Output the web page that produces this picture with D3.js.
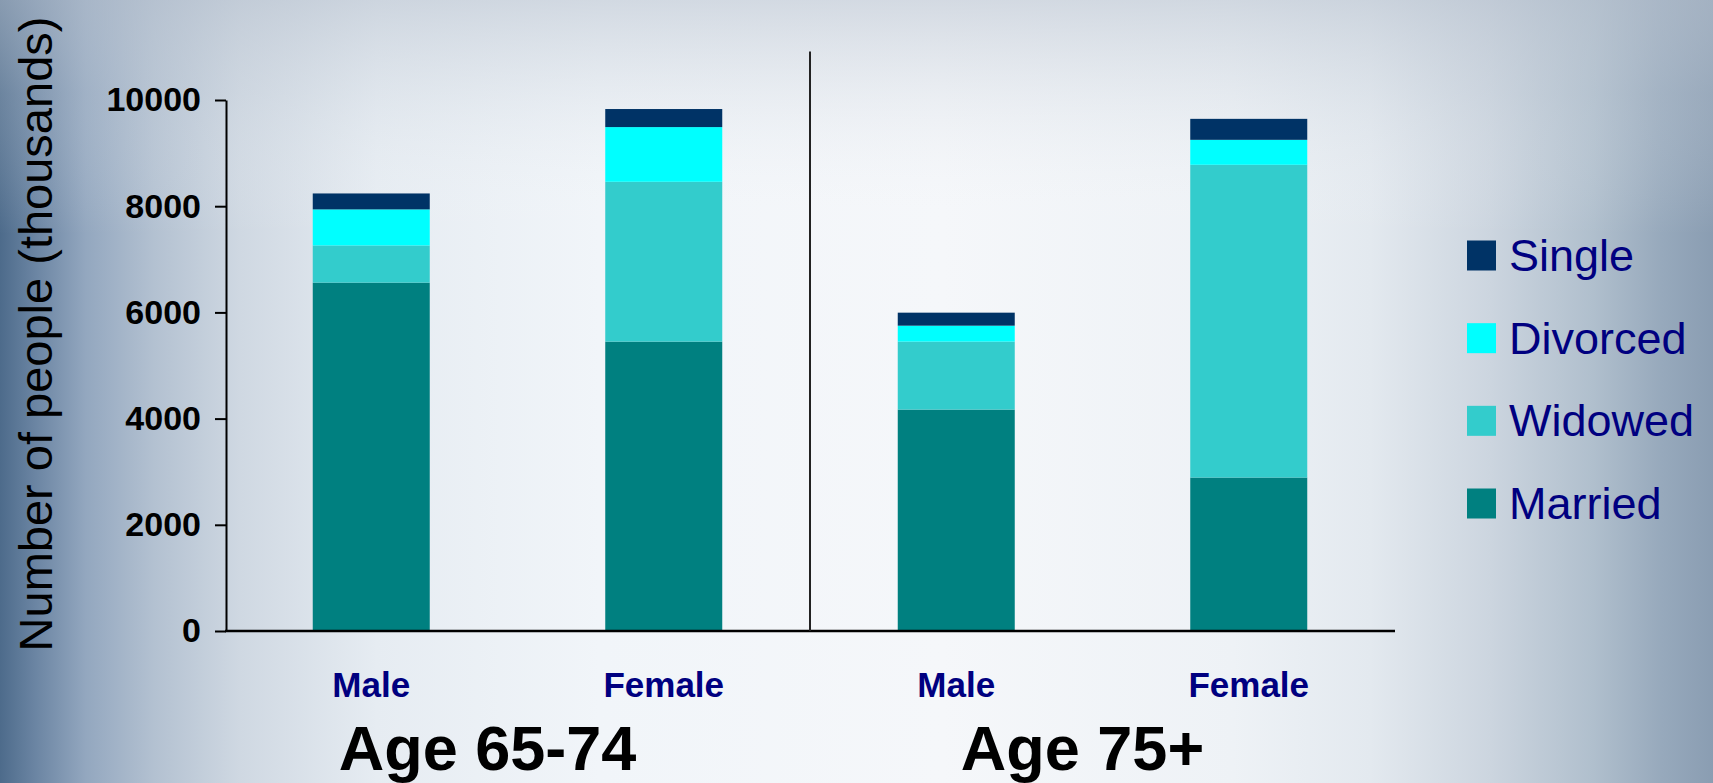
<!DOCTYPE html>
<html>
<head>
<meta charset="utf-8">
<script src="https://cdn.jsdelivr.net/npm/d3@7"></script>
<style>
  html, body { margin: 0; padding: 0; overflow: hidden; }
  svg { display: block; font-family: "Liberation Sans", Arial, sans-serif; }
</style>
</head>
<body>
<svg id="chart" width="1713" height="783"></svg>
<script>
// Marital status of older people, by age group and sex (thousands)
const categories = ["Male", "Female", "Male", "Female"];
const groups = ["Age 65-74", "Age 75+"];
const series = ["Married", "Widowed", "Divorced", "Single"];
const married  = [6560, 5450, 4170, 2890];
const widowed  = [700, 3010, 1280, 5890];
const divorced = [680, 1030, 300, 470];
const single   = [300, 340, 245, 395];
const yTicks = [0, 2000, 4000, 6000, 8000, 10000];
const legendOrder = ["Single", "Divorced", "Widowed", "Married"];
const colors = {
  Married: "#008080",
  Widowed: "#33cccc",
  Divorced: "#00ffff",
  Single: "#003366"
};

const W = 1713, H = 783;
const svg = d3.select("#chart");

// Background wash
const defs = svg.append("defs");
const hg = defs.append("linearGradient").attr("id", "bgH").attr("x1", 0).attr("x2", 1).attr("y1", 0).attr("y2", 0);
[[0, "#4d6b8b"], [0.02, "#6a84a2"], [0.05, "#93a7bf"], [0.09, "#b3c1d1"], [0.14, "#cfd8e2"],
 [0.22, "#e6ecf2"], [0.35, "#f1f5f9"], [0.55, "#f5f7fa"], [0.72, "#eef2f6"], [0.8, "#e3e9ef"],
 [0.87, "#ccd5df"], [0.93, "#b0bfcd"], [0.97, "#97a9bc"], [1, "#8a9db2"]]
  .forEach(([o, c]) => hg.append("stop").attr("offset", o).attr("stop-color", c));
const vg = defs.append("linearGradient").attr("id", "bgV").attr("x1", 0).attr("x2", 0).attr("y1", 0).attr("y2", 1);
[[0, "#b8c2cf", 0.55], [0.12, "#c8d0da", 0.25], [0.3, "#ffffff", 0], [1, "#ffffff", 0]]
  .forEach(([o, c, a]) => vg.append("stop").attr("offset", o).attr("stop-color", c).attr("stop-opacity", a));
svg.append("rect").attr("width", W).attr("height", H).attr("fill", "url(#bgH)");
svg.append("rect").attr("width", W).attr("height", H).attr("fill", "url(#bgV)");

// Scales
const x = d3.scaleBand()
  .domain(d3.range(categories.length))
  .range([225, 1395])
  .paddingInner(0.6)
  .paddingOuter(0.3);
const y = d3.scaleLinear().domain([0, 10000]).range([631, 100]);

// Stacked data
const rows = categories.map((c, i) => ({
  Married: married[i], Widowed: widowed[i], Divorced: divorced[i], Single: single[i]
}));
const stacked = d3.stack().keys(series)(rows);

// Bars
svg.append("g").selectAll("g")
  .data(stacked)
  .join("g")
  .attr("fill", d => colors[d.key])
  .selectAll("rect")
  .data(d => d.map((v, i) => ({ v, i })))
  .join("rect")
  .attr("x", d => x(d.i))
  .attr("width", x.bandwidth())
  .attr("y", d => y(d.v[1]))
  .attr("height", d => y(d.v[0]) - y(d.v[1]));

// Y axis
const yAxis = svg.append("g")
  .attr("transform", `translate(${x.range()[0] + 1},0)`)
  .call(d3.axisLeft(y).tickValues(yTicks).tickFormat(d3.format("d"))
    .tickSize(11).tickSizeOuter(0).tickPadding(14));
yAxis.select(".domain").attr("stroke", "#000").attr("stroke-width", 2);
yAxis.selectAll(".tick line").attr("stroke", "#000").attr("stroke-width", 2);
yAxis.selectAll(".tick text")
  .attr("fill", "#000")
  .attr("font-size", 34)
  .attr("font-weight", "bold")
  .attr("font-family", "'Liberation Sans', Arial, sans-serif");

// Baseline
svg.append("line")
  .attr("x1", x.range()[0]).attr("x2", x.range()[1])
  .attr("y1", y(0)).attr("y2", y(0))
  .attr("stroke", "#000").attr("stroke-width", 2.5);

// Divider between the age groups
const midX = (x.range()[0] + x.range()[1]) / 2;
svg.append("line")
  .attr("x1", midX).attr("x2", midX)
  .attr("y1", 51.5).attr("y2", y(0))
  .attr("stroke", "#222").attr("stroke-width", 2);

// Category labels
svg.append("g").selectAll("text")
  .data(categories)
  .join("text")
  .attr("x", (d, i) => x(i) + x.bandwidth() / 2)
  .attr("y", 697)
  .attr("text-anchor", "middle")
  .attr("font-size", 35)
  .attr("font-weight", "bold")
  .attr("fill", "#000080")
  .text(d => d);

// Age group labels, nudged a little left of each group's centre
const groupShift = [-30, -20];
svg.append("g").selectAll("text")
  .data(groups)
  .join("text")
  .attr("x", (d, g) => (x(g * 2) + x(g * 2 + 1) + x.bandwidth()) / 2 + groupShift[g])
  .attr("y", 770)
  .attr("text-anchor", "middle")
  .attr("font-size", 63)
  .attr("font-weight", "bold")
  .attr("fill", "#000")
  .text(d => d);

// Y axis title
svg.append("text")
  .attr("transform", "translate(52,334) rotate(-90)")
  .attr("text-anchor", "middle")
  .attr("font-size", 47)
  .attr("fill", "#000")
  .text("Number of people (thousands)");

// Legend
const ly = d3.scalePoint().domain(legendOrder).range([255.5, 503.5]);
const legend = svg.append("g").selectAll("g")
  .data(legendOrder)
  .join("g")
  .attr("transform", d => `translate(1467,${ly(d)})`);
legend.append("rect")
  .attr("x", 0).attr("y", -15)
  .attr("width", 29).attr("height", 30)
  .attr("fill", d => colors[d]);
legend.append("text")
  .attr("x", 42).attr("y", 15.5)
  .attr("font-size", 45)
  .attr("fill", "#000080")
  .text(d => d);
</script>
</body>
</html>
